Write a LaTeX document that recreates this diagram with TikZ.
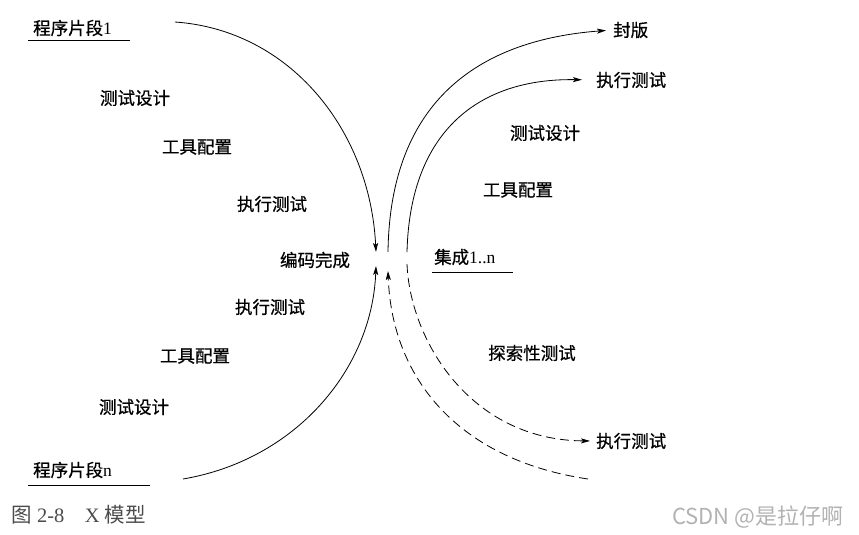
\documentclass[tikz,border=0pt]{standalone}
\usepackage{fontspec}
\setmainfont{Liberation Serif}
\newfontfamily\cjk[FakeBold=0.6]{Noto Sans CJK SC}
\newfontfamily\cjkthin{Noto Sans CJK SC}
\usetikzlibrary{arrows.meta}

\tikzset{
  lbl/.style={font=\fontsize{17.5}{20}\selectfont\cjk, inner sep=1pt},
  kurve/.style={line width=0.8pt},
  pfeil/.style={kurve, -{Stealth[length=9pt,width=5pt,inset=2pt]}},
  strich/.style={dash pattern=on 9pt off 5pt},
}

\begin{document}
\begin{tikzpicture}[x=1pt, y=-1pt]
        \useasboundingbox (0,0) rectangle (859,535);

        % levá strana
        \node[lbl, anchor=west] (P1) at (32,28) {程序片段{\rmfamily 1}};
        \node[lbl] (T1) at (135,98) {测试设计};
        \node[lbl] (K1) at (197,147) {工具配置};
        \node[lbl] (Z1) at (272,204) {执行测试};
        \node[lbl] (E) at (315,260) {编码完成};
        \node[lbl] (Z2) at (270,307) {执行测试};
        \node[lbl] (K2) at (195,356) {工具配置};
        \node[lbl] (T2) at (134,407) {测试设计};
        \node[lbl, anchor=west] (Pn) at (32,470) {程序片段{\rmfamily n}};
        \draw[kurve] (28,40) -- (130,40);
        \draw[kurve] (28,485) -- (150,485);

        % pravá strana
        \node[lbl, anchor=west] (F) at (612,30) {封版};
        \node[lbl, anchor=west] (Zr) at (595,80) {执行测试};
        \node[lbl] (Tr) at (545,133) {测试设计};
        \node[lbl] (Kr) at (518,190) {工具配置};
        \node[lbl, anchor=west] (I) at (433,257) {集成{\rmfamily 1..n}};
        \node[lbl] (S) at (532,353) {探索性测试};
        \node[lbl, anchor=west] (Zd) at (595,441) {执行测试};
        \draw[kurve] (432,272) -- (513,272);

        % konce křivek
        \coordinate (a1) at (175,22);
        \coordinate (a2) at (376,252);
        \coordinate (b1) at (183,479);
        \coordinate (b2) at (376,266);
        \coordinate (c1) at (388,252);
        \coordinate (d1) at (407,252);
        \coordinate (e1) at (407,264);
        \coordinate (f1) at (588,479);
        \coordinate (f2) at (388,271);

        % křivky
        \draw[pfeil] (a1) .. controls (290,30) and (370,130) .. (a2);
        \draw[pfeil] (b1) .. controls (295,460) and (372,370) .. (b2);
        \draw[pfeil, shorten >=6pt] (c1) .. controls (390,100) and (480,40) .. (F.west);
        \draw[pfeil, shorten >=13pt] (d1) .. controls (410,130) and (480,78) .. (Zr.west);
        \draw[pfeil, strich, shorten >=5pt] (e1) .. controls (410,340) and (470,440) .. (Zd.west);
        \draw[pfeil, strich] (f1) .. controls (460,460) and (392,380) .. (f2);

        % popisek
        \node[anchor=west, text=black!70, font=\fontsize{20.5}{23}\selectfont] (cap) at (8,515) {{\cjkthin 图} 2-8\quad X {\cjkthin 模型}};
        \node[anchor=east, text=black!30, font=\fontsize{22}{25}\selectfont\cjkthin] (wm) at (847,517) {CSDN @是拉仔啊};
    \end{tikzpicture}
\end{document}
